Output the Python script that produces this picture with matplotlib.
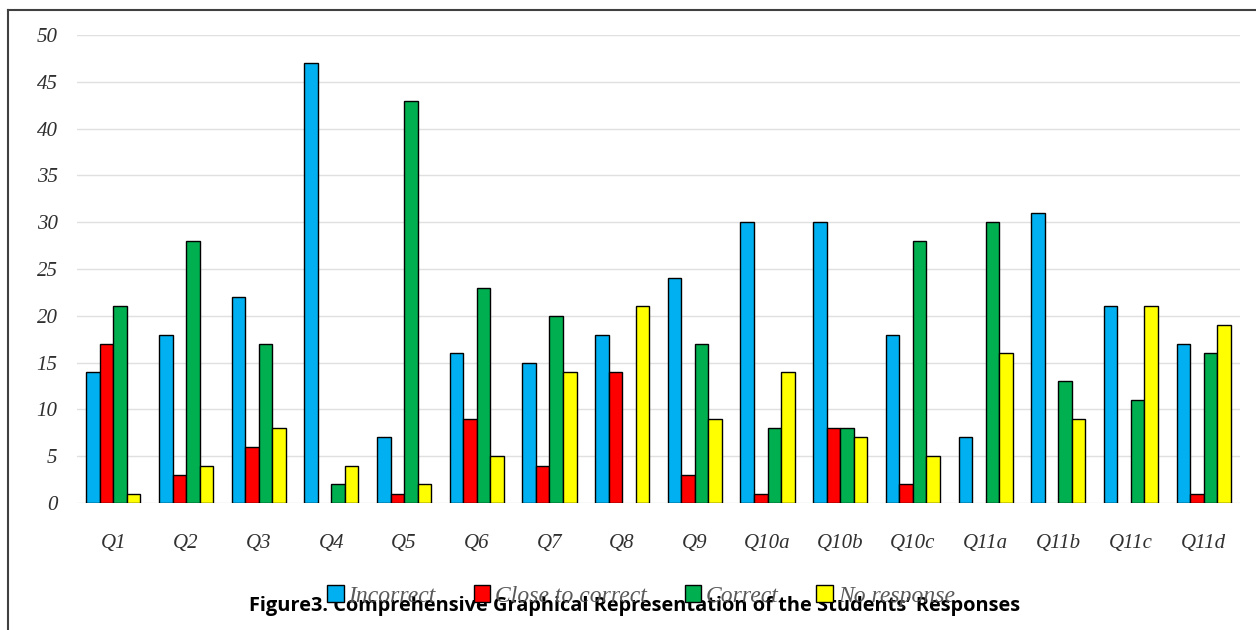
import matplotlib.pyplot as plt
from matplotlib.patches import Patch
import numpy as np

# Data
questions = ['Q1', 'Q2', 'Q3', 'Q4', 'Q5', 'Q6', 'Q7', 'Q8', 'Q9',
             'Q10a', 'Q10b', 'Q10c', 'Q11a', 'Q11b', 'Q11c', 'Q11d']
incorrect = [14, 18, 22, 47, 7, 16, 15, 18, 24, 30, 30, 18, 7, 31, 21, 17]
close_to_correct = [17, 3, 6, 0, 1, 9, 4, 14, 3, 1, 8, 2, 0, 0, 0, 1]
correct = [21, 28, 17, 2, 43, 23, 20, 0, 17, 8, 8, 28, 30, 13, 11, 16]
no_response = [1, 4, 8, 4, 2, 5, 14, 21, 9, 14, 7, 5, 16, 9, 21, 19]

series_names = ['Incorrect', 'Close to correct', 'Correct', 'No response']
series_values = [incorrect, close_to_correct, correct, no_response]
colors = ['#00B0F0', '#FF0000', '#00B050', '#FFFF00']

yticks = list(range(0, 51, 5))

fig = plt.figure(figsize=(12.56, 6.3), dpi=100)
ax = fig.add_axes([77 / 1256, 1 - 503 / 630, 1163 / 1256, 468 / 630])

x = np.arange(len(questions))
width = 0.186
for i, (vals, col) in enumerate(zip(series_values, colors)):
    vals = np.array(vals)
    keep = vals > 0  # zero bars are not drawn in the original
    ax.bar(x[keep] + (i - 1.5) * width, vals[keep], width=width, color=col,
           edgecolor='black', linewidth=1.0, zorder=3)

ax.set_xlim(-0.5, len(questions) - 0.5)
ax.set_ylim(0, 50)
ax.set_yticks(yticks)
ax.set_xticks(x)
ax.set_xticklabels(questions)
for s in ax.spines.values():
    s.set_visible(False)
ax.grid(axis='y', color='#e0e0e0', linewidth=1.0, zorder=0)
ax.tick_params(length=0)
ax.tick_params(axis='y', pad=14)
ax.tick_params(axis='x', pad=22)
for lab in ax.get_xticklabels() + ax.get_yticklabels():
    lab.set_family('Liberation Serif')
    lab.set_style('italic')
    lab.set_fontsize(15)
    lab.set_color('#303030')

# outer frame (left and top edges visible)
fig.add_artist(plt.Line2D([8 / 1256, 8 / 1256], [0, 1 - 10 / 630],
                          transform=fig.transFigure, color='#404040', linewidth=1.5))
fig.add_artist(plt.Line2D([8 / 1256, 1], [1 - 10 / 630, 1 - 10 / 630],
                          transform=fig.transFigure, color='#404040', linewidth=1.5))

handles = [Patch(facecolor=c, edgecolor='black', linewidth=1.0) for c in colors]
leg = fig.legend(handles, series_names, loc='center', ncol=4,
                 bbox_to_anchor=(641 / 1256, 1 - 596 / 630), frameon=False,
                 handlelength=0.7, handleheight=0.7, handletextpad=0.2,
                 columnspacing=1.6,
                 prop={'family': 'Liberation Serif', 'style': 'italic', 'size': 17})
for t in leg.get_texts():
    t.set_color('#595959')

fig.text(635 / 1256, 1 - 606 / 630,
         "Figure3. Comprehensive Graphical Representation of the Students\u2019 Responses",
         ha='center', va='center', fontsize=14.4, fontweight='bold',
         family='Open Sans', color='black')

fig.savefig('out.png', dpi=100)
